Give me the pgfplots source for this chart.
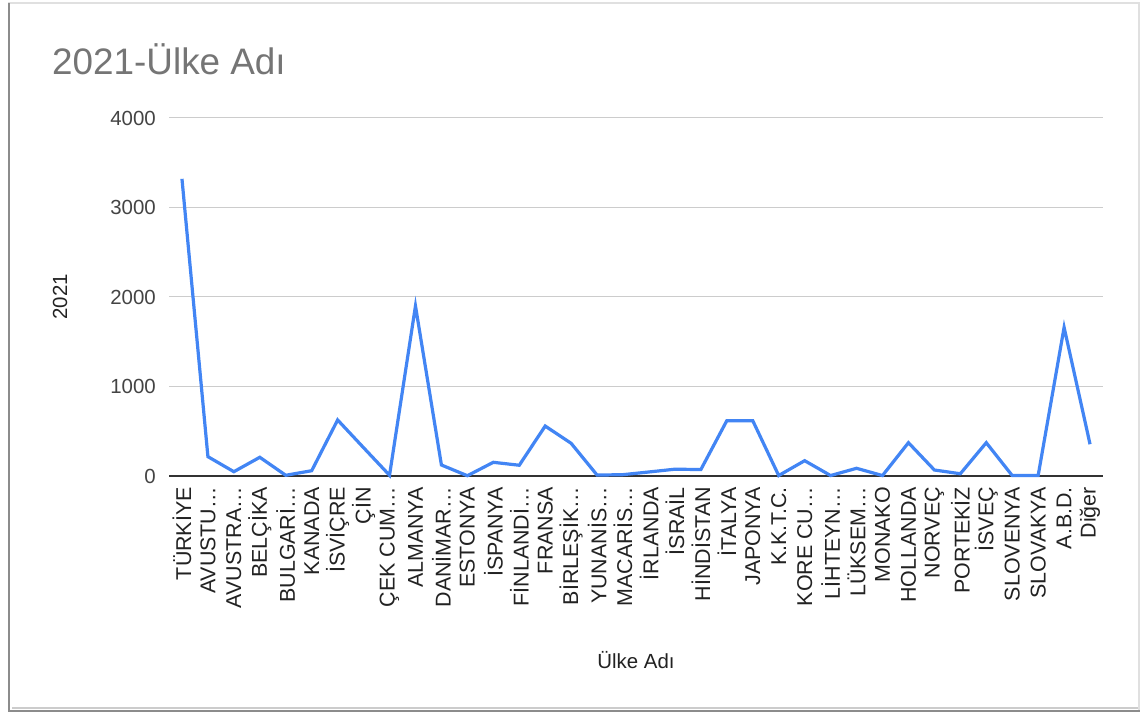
\documentclass[border=0pt]{standalone}
\usepackage{fontspec}
\setmainfont{Liberation Sans}
\usepackage{pgfplots}
\pgfplotsset{compat=1.18}
\definecolor{lineblue}{RGB}{66,133,244}
\definecolor{titlegray}{RGB}{117,117,117}
\definecolor{ticklab}{RGB}{68,68,68}
\definecolor{labdark}{RGB}{34,34,34}
\begin{document}
\begin{tikzpicture}[x=1bp,y=1bp]
\useasboundingbox (0,0) rectangle (1142,716);
% card frame with shadow
\fill[white] (8,4) rectangle (1140,713);
\draw[black!12, line width=1.5bp] (9,5) rectangle (1139,713);
\draw[black!45, line width=2.5bp] (9,713) -- (9,5) -- (1140,5);
\draw[black!20, line width=1.5bp] (12,8) -- (1138,8);
% title
\node[anchor=base west, inner sep=0pt, text=titlegray, font=\fontsize{37}{42}\selectfont] at (52,641) {2021-Ülke Adı};
\begin{axis}[
  at={(169bp,240bp)}, anchor=south west,
  scale only axis, width=934bp, height=358bp,
  xmin=-0.5, xmax=35.5, ymin=0, ymax=4000,
  ytick={0,1000,2000,3000,4000},
  scaled ticks=false,
  /pgf/number format/1000 sep={},
  /pgf/number format/assume math mode=true,
  xtick={0,...,35},
  xticklabels={TÜRKİYE,AVUSTU…,AVUSTRA…,BELÇİKA,BULGARİ…,KANADA,İSVİÇRE,ÇİN,ÇEK CUM…,ALMANYA,DANİMAR…,ESTONYA,İSPANYA,FİNLANDİ…,FRANSA,BİRLEŞİK…,YUNANİS…,MACARİS…,İRLANDA,İSRAİL,HİNDİSTAN,İTALYA,JAPONYA,K.K.T.C.,KORE CU…,LİHTEYN…,LÜKSEM…,MONAKO,HOLLANDA,NORVEÇ,PORTEKİZ,İSVEÇ,SLOVENYA,SLOVAKYA,A.B.D.,Diğer},
  x tick label style={rotate=90, anchor=east, inner sep=0pt, text=labdark, font=\fontsize{21.5}{24}\selectfont},
  xticklabel shift=11bp,
  y tick label style={anchor=east, inner sep=0pt, text=ticklab, font=\fontsize{20.5}{24}\selectfont},
  yticklabel shift=13bp,
  major tick length=0pt,
  axis line style={draw=none},
  ymajorgrids,
  grid style={black!20, line width=1bp},
  extra y ticks={0},
  extra y tick labels={},
  extra y tick style={grid style={black!80, line width=1.5bp}},
  xlabel={Ülke Adı},
  ylabel={2021},
  label style={text=labdark, font=\fontsize{20.5}{24}\selectfont},
  xlabel style={at={(axis description cs:0.5,-0.514)}, anchor=center},
  ylabel style={at={(axis description cs:-0.1167,0.5)}, anchor=center},
  clip=false,
]
\addplot[lineblue, line width=3.2bp, line join=miter, mark=none] coordinates {
(0,3320) (1,216) (2,48) (3,209) (4,8) (5,59) (6,626) (7,316) (8,8) (9,1900)
(10,123) (11,3) (12,153) (13,120) (14,558) (15,365) (16,10) (17,15) (18,45) (19,76)
(20,72) (21,618) (22,618) (23,5) (24,171) (25,5) (26,86) (27,5) (28,372) (29,67)
(30,25) (31,372) (32,5) (33,5) (34,1660) (35,355)
};
\end{axis}
\end{tikzpicture}
\end{document}
